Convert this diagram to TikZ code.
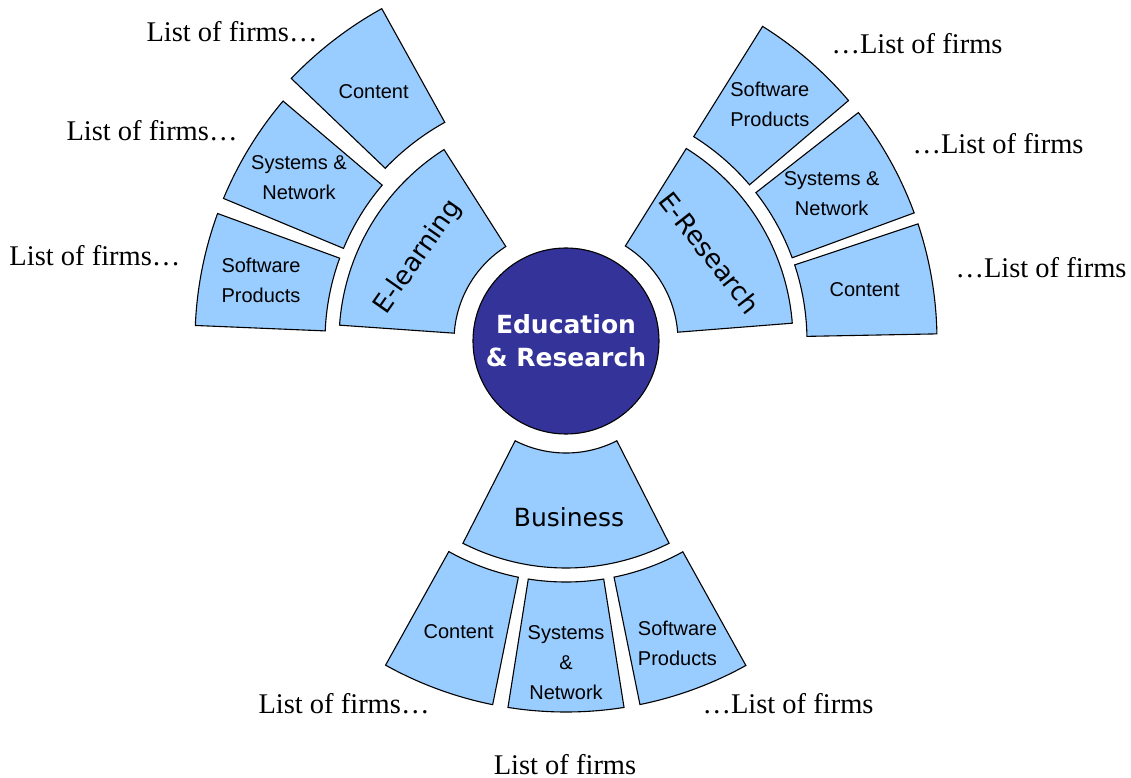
\documentclass[tikz,border=0pt]{standalone}
\usepackage{fontspec}
\setmainfont{Liberation Serif}
\newfontfamily\arialfont{Liberation Sans}
\newfontfamily\tahfont{DejaVu Sans}
\definecolor{paleblue}{HTML}{99CCFF}
\definecolor{hubblue}{HTML}{333399}

% name, start angle, end angle, inner radius, outer radius, label radius, text
\newcommand{\ringpart}[7]{%
  \draw[sectorfill] (#2:#4) arc[start angle=#2, end angle=#3, radius=#4]
    -- (#3:#5) arc[start angle=#3, end angle=#2, radius=#5] -- cycle;
  \node[sectortext] (#1) at ({(#2+#3)/2}:#6) {#7};
}

\begin{document}
\begin{tikzpicture}%
        [x=1pt, y=1pt,
         sectorfill/.style={fill=paleblue, draw=black, line width=1.1pt, line join=miter},
         sectortext/.style={align=center, font=\arialfont\fontsize{20}{30}\selectfont, inner sep=0pt},
         maintext/.style={font=\tahfont\fontsize{25}{30}\selectfont, inner sep=0pt},
         firms/.style={font=\fontsize{28.5}{30}\selectfont, inner sep=0pt},
         hub/.style={circle, minimum size=186pt, inner sep=0pt, fill=hubblue, draw=black,
                     line width=1.1pt, text=white, align=center,
                     font=\tahfont\bfseries\fontsize{25}{33}\selectfont}]
        \useasboundingbox (-566,-437) rectangle (565,341);

        \node[hub] (hub) at (0,0) {Education\\\& Research};

        % E-learning
        \draw[sectorfill] (122.5:112) arc[start angle=122.5, end angle=176, radius=112]
            -- (176:227) arc[start angle=176, end angle=122.5, radius=227] -- cycle;
        \node[maintext, rotate=55, font=\tahfont\fontsize{26}{30}\selectfont] (elearn) at (-148,84) {E-learning};
        \ringpart{elcontent}{119}{136.3}{250}{380}{315}{Content}
        \ringpart{elsystems}{139.7}{157.4}{241}{371}{313}{Systems \&\\Network}
        \ringpart{elsoftware}{159.9}{177.6}{241}{371}{311}{Software\\Products}

        % E-Research
        \draw[sectorfill] (4.5:112) arc[start angle=4.5, end angle=58, radius=112]
            -- (58:227) arc[start angle=58, end angle=4.5, radius=227] -- cycle;
        \node[maintext, rotate=-52, font=\tahfont\fontsize{26}{30}\selectfont] (eresearch) at (144,88) {E-Research};
        \ringpart{ersoftware}{40.4}{58}{241}{371}{312}{Software\\Products}
        \ringpart{ersystems}{20.2}{38}{241}{371}{304}{Systems \&\\Network}
        \ringpart{ercontent}{1.1}{18.4}{241}{371}{303}{Content}

        % Business
        \draw[sectorfill] (243:112) arc[start angle=243, end angle=297, radius=112]
            -- (297:227) arc[start angle=297, end angle=243, radius=227] -- cycle;
        \node[maintext] (business) at (3,-176) {Business};
        \ringpart{bucontent}{240.9}{258.6}{241}{371}{310}{Content}
        \ringpart{busystems}{261}{279}{241}{371}{322}{Systems\\\&\\Network}
        \ringpart{busoftware}{281.5}{299}{241}{371}{322}{Software\\Products}

        \node[firms] (firmsa) at (-334,309) {List of firms…};
        \node[firms] (firmsb) at (-414,210) {List of firms…};
        \node[firms] (firmsc) at (-471,85) {List of firms…};
        \node[firms] (firmsd) at (351,297) {…List of firms};
        \node[firms] (firmse) at (432,197) {…List of firms};
        \node[firms] (firmsf) at (475,73) {…List of firms};
        \node[firms] (firmsg) at (-222,-363) {List of firms…};
        \node[firms] (firmsh) at (222,-363) {…List of firms};
        \node[firms] (firmsi) at (-1,-423.5) {List of firms};
\end{tikzpicture}
\end{document}
